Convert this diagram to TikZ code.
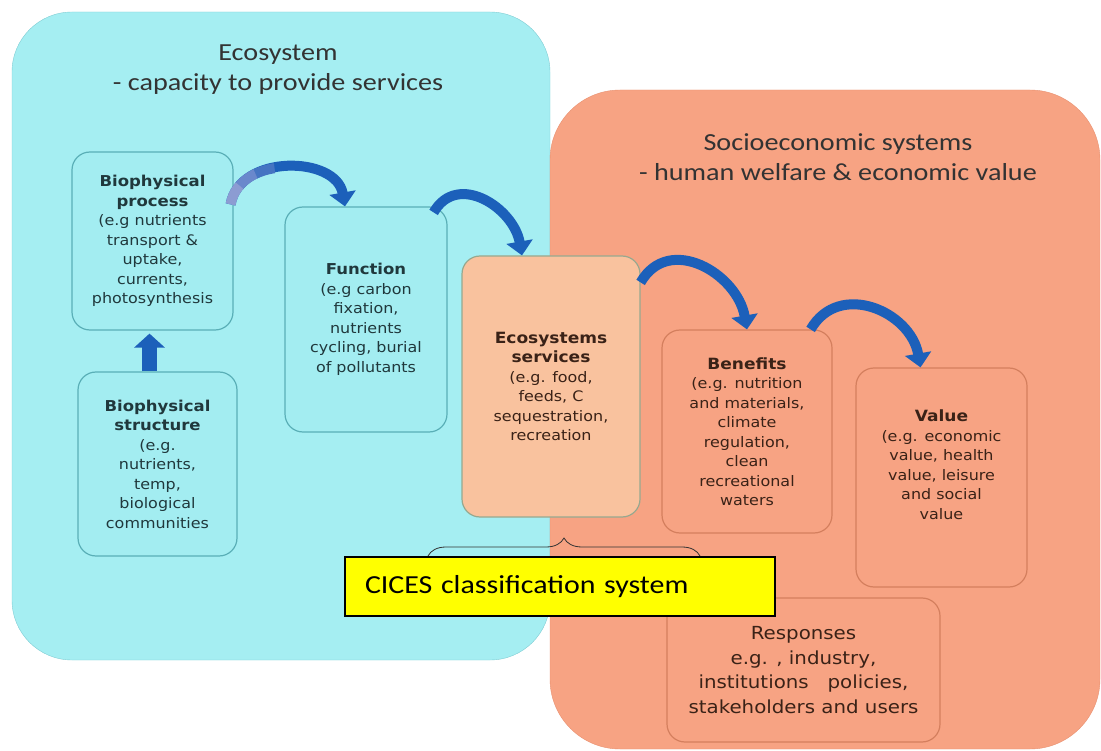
\documentclass[tikz,border=0pt]{standalone}
\usepackage{fontspec}
\setmainfont{DejaVu Sans}[FakeStretch=1.1]
\newfontfamily\titlefont{Carlito}[FakeStretch=1.15]
\usetikzlibrary{arrows.meta, decorations.pathreplacing}

\definecolor{ecobg}{HTML}{A5EEF2}
\definecolor{ecoline}{HTML}{7FCCD3}
\definecolor{ecofill}{HTML}{A3EDF1}
\definecolor{ecoedge}{HTML}{5AAFB7}
\definecolor{socbg}{HTML}{F7A383}
\definecolor{socline}{HTML}{E8906F}
\definecolor{socedge}{HTML}{D47F5E}
\definecolor{servfill}{HTML}{F9C29E}
\definecolor{servedge}{HTML}{97A88F}
\definecolor{flowblue}{HTML}{1C60BA}
\definecolor{fadeone}{HTML}{8C9CD2}
\definecolor{fadetwo}{HTML}{6A88CC}
\definecolor{fadethree}{HTML}{4574C2}
\definecolor{ecotext}{HTML}{20383C}
\definecolor{soctext}{HTML}{3A2217}
\definecolor{cicesyellow}{RGB}{255,255,0}

\newcommand{\hd}[1]{{\fontsize{15}{19.5}\selectfont\bfseries #1}}
\newcommand{\shd}[1]{{\fontsize{15.5}{21}\selectfont\bfseries #1}}

\begin{document}
\begin{tikzpicture}[x=1pt, y=1pt,
  box/.style={rounded corners=18pt, line width=1.2pt, align=center, inner sep=0pt,
    font=\fontsize{14.5}{19.5}\selectfont},
  ecobox/.style={box, draw=ecoedge, fill=ecofill, text=ecotext},
  socbox/.style={box, draw=socedge, fill=socbg, text=soctext},
  flow/.style={draw=flowblue, line width=10pt, -{Triangle[width=26pt,length=14pt]}},
  fade/.style={postaction={draw=#1, line width=10pt, -}},
  titletext/.style={align=center, text=black!80, font=\titlefont\fontsize{24.5}{30}\selectfont}]
\useasboundingbox (0,0) rectangle (1101,-751);
% the two systems
\draw[fill=ecobg, draw=ecoline, rounded corners=60pt] (12,-12) rectangle (550,-660);
\draw[fill=socbg, draw=socline, rounded corners=70pt] (550,-90) rectangle (1100,-749);
\node[titletext] (ecotitle) at (278,-70) {Ecosystem\\- capacity to provide services};
\node[titletext] (soctitle) at (838,-157) {Socioeconomic systems\\- human welfare \& economic value};

% boxes
\node[ecobox, minimum width=161, minimum height=178] (proc) at (152.5,-241)
  {\hd{Biophysical}\\\hd{process}\\(e.g nutrients\\transport \&\\uptake,\\currents,\\photosynthesis};
\node[ecobox, minimum width=159, minimum height=184] (struc) at (157.5,-464)
  {\hd{Biophysical}\\\hd{structure}\\(e.g.\\nutrients,\\temp,\\biological\\communities};
\node[ecobox, minimum width=162, minimum height=225] (func) at (366,-319.5)
  {\hd{Function}\\(e.g carbon\\fixation,\\nutrients\\cycling, burial\\of pollutants};
\node[box, draw=servedge, fill=servfill, text=soctext, minimum width=178, minimum height=261] (serv) at (551,-386.5)
  {\shd{Ecosystems}\\\shd{services}\\(e.g. food,\\feeds, C\\sequestration,\\recreation};
\node[socbox, minimum width=170, minimum height=203] (bene) at (747,-431.5)
  {\shd{Benefits}\\(e.g. nutrition\\and materials,\\climate\\regulation,\\clean\\recreational\\waters};
\node[socbox, minimum width=171, minimum height=219] (val) at (941.5,-477.5)
  {\shd{Value}\\(e.g. economic\\value, health\\value, leisure\\and social\\value\\[6pt]};
\node[socbox, minimum width=273, minimum height=144, font=\fontsize{18}{24.5}\selectfont] (resp) at (803.5,-670)
  {Responses\\e.g. , industry,\\institutions~~ policies,\\stakeholders and users};

% arrows
\draw[flow, line width=15pt, -{Triangle[width=30pt,length=14pt]}] ([xshift=-8pt]struc.north) -- ([xshift=-3pt,yshift=-3pt]proc.south);
\draw[flow,
  fade={fadethree, dash pattern=on 0pt off 40pt on 21pt off 2000pt},
  fade={fadetwo, dash pattern=on 0pt off 20pt on 21pt off 2000pt},
  fade={fadeone, dash pattern=on 21pt off 2000pt}]
  ([xshift=-3pt,yshift=-53pt]proc.north east) to[out=80,in=100,looseness=1.15] ([xshift=-21pt]func.north);
\draw[flow] ([xshift=-14pt,yshift=-6pt]func.north east) to[out=60,in=100,looseness=1.25] ([xshift=-29pt]serv.north);
\draw[flow] ([yshift=-27pt]serv.north east) to[out=60,in=100,looseness=1.25] (bene.north);
\draw[flow] ([xshift=-22pt]bene.north east) to[out=60,in=100,looseness=1.25] ([xshift=-21pt]val.north);

% classification
\coordinate (bracel) at (428,-556);
\coordinate (bracer) at (700,-556);
\draw[decorate, decoration={brace, amplitude=18pt}, line width=0.8pt, black!80] (bracel) -- (bracer);
\node[draw=black, line width=1.2pt, fill=cicesyellow, minimum width=430, minimum height=59,
  text width=390, inner xsep=20pt, align=left, font=\titlefont\fontsize{26}{30}\selectfont] (cices) at (560,-586.5)
  {CICES classification system};
\end{tikzpicture}
\end{document}
